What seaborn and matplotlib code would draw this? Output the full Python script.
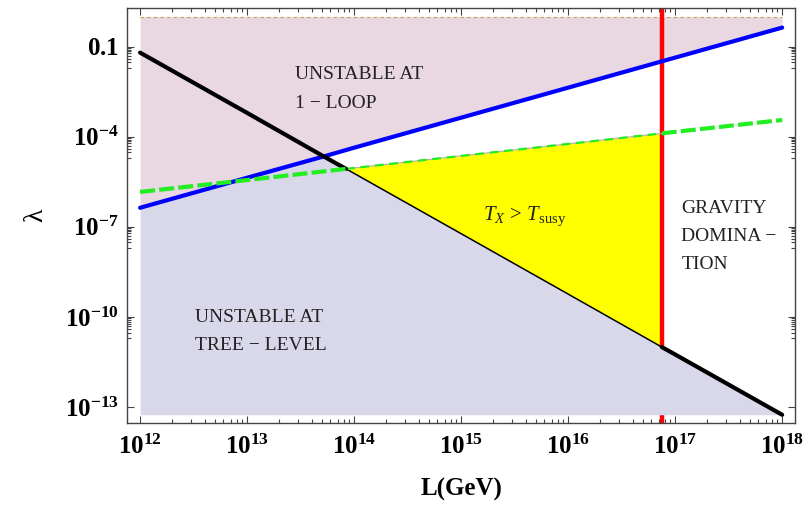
import numpy as np
import pandas as pd
import matplotlib
matplotlib.use("Agg")
import matplotlib.pyplot as plt
import seaborn as sns
from matplotlib.ticker import FixedLocator, NullFormatter, FixedFormatter

# ---------------- data ----------------
L_decades = [1e12, 1e13, 1e14, 1e15, 1e16, 1e17, 1e18]
tree_level = [6.3e-2, 6.2e-4, 6.0e-6, 5.9e-8, 5.75e-10, 5.6e-12, 5.5e-14]
one_loop = [4.3e-7, 4.3e-6, 4.3e-5, 4.3e-4, 4.3e-3, 4.3e-2, 0.43]
tx_tsusy = [1.45e-6, 3.6e-6, 9.1e-6, 2.3e-5, 5.75e-5, 1.45e-4, 3.6e-4]

L_gravity = 7.5e16
lam_top = 1.0
lam_bottom = 5.5e-14

# crossing points
L_cross_tree_loop, lam_cross_tree_loop = 5.2e13, 2.2e-5
L_cross_tree_tx, lam_cross_tree_tx = 8.4e13, 8.5e-6
tree_at_gravity = 9.9e-12
tx_at_gravity = 1.29e-4

x_ticks = [1e12, 1e13, 1e14, 1e15, 1e16, 1e17, 1e18]
x_labels = [r"$\mathbf{10^{12}}$", r"$\mathbf{10^{13}}$", r"$\mathbf{10^{14}}$",
            r"$\mathbf{10^{15}}$", r"$\mathbf{10^{16}}$", r"$\mathbf{10^{17}}$",
            r"$\mathbf{10^{18}}$"]
y_ticks = [1e-1, 1e-4, 1e-7, 1e-10, 1e-13]
y_labels = [r"$\mathbf{0.1}$", r"$\mathbf{10^{-4}}$", r"$\mathbf{10^{-7}}$",
            r"$\mathbf{10^{-10}}$", r"$\mathbf{10^{-13}}$"]

# ---------------- build point tables ----------------
tree = pd.DataFrame({"L": L_decades + [L_cross_tree_loop, L_cross_tree_tx, L_gravity],
                     "lam": tree_level + [lam_cross_tree_loop, lam_cross_tree_tx, tree_at_gravity]}
                    ).sort_values("L").reset_index(drop=True)
loop = pd.DataFrame({"L": L_decades + [L_cross_tree_loop],
                     "lam": one_loop + [lam_cross_tree_loop]}).sort_values("L").reset_index(drop=True)
tx = pd.DataFrame({"L": L_decades + [L_cross_tree_tx, L_gravity],
                   "lam": tx_tsusy + [lam_cross_tree_tx, tx_at_gravity]}).sort_values("L").reset_index(drop=True)

# lavender region: below min(one-loop, tree)
lav = pd.concat([loop[loop.L <= L_cross_tree_loop], tree[tree.L > L_cross_tree_loop]])
# yellow region
yl_tree = tree[(tree.L >= L_cross_tree_tx) & (tree.L <= L_gravity)]
yl_tx = tx[(tx.L >= L_cross_tree_tx) & (tx.L <= L_gravity)]

# ---------------- figure ----------------
sns.set_theme(style="ticks")
plt.rcParams["font.family"] = ["Liberation Serif", "DejaVu Serif"]
plt.rcParams["mathtext.fontset"] = "custom"
plt.rcParams["mathtext.rm"] = "Liberation Serif"
plt.rcParams["mathtext.it"] = "Liberation Serif:italic"
plt.rcParams["mathtext.bf"] = "Liberation Serif:bold"

fig = plt.figure(figsize=(8.1, 5.05), dpi=100)
ax = fig.add_axes([0.157, 0.162, 0.825, 0.823])
ax.set_xscale("log")
ax.set_yscale("log")

pink = "#E9D7E2"
lavender = "#D9D8EA"

ax.fill_between(loop.L, loop.lam, lam_top, color=pink, lw=0, zorder=1)
ax.plot([L_decades[0], L_decades[-1]], [lam_top, lam_top], color="#C8A050",
        lw=0.8, linestyle=(0, (3, 3)), zorder=1.5)
ax.fill_between(yl_tree.L.values, yl_tree.lam.values, yl_tx.lam.values,
                color="#FFFF00", lw=0, zorder=1.6)
ax.axvline(L_gravity, color="#FF0000", lw=3.2, zorder=2)
ax.fill_between(lav.L, lam_bottom, lav.lam, color=lavender, lw=0, zorder=3)

# thin edges of the yellow region
sns.lineplot(x=yl_tree.L, y=yl_tree.lam, color="black", lw=1.1, ax=ax, zorder=4,
             estimator=None)
sns.lineplot(x=yl_tx.L, y=yl_tx.lam, color="#C8A0A8", lw=0.8, ax=ax, zorder=4,
             estimator=None)
sns.lineplot(x=yl_tx.L, y=yl_tx.lam, color="#22EE22", lw=1.6, ax=ax, zorder=4.5,
             estimator=None, linestyle=(0, (4, 2.5)))

# thick curves
sns.lineplot(x=loop.L, y=loop.lam, color="#0000FF", lw=3.0, ax=ax, zorder=5,
             estimator=None)
for part in (tree[tree.L <= L_cross_tree_tx], tree[tree.L >= L_gravity]):
    sns.lineplot(x=part.L, y=part.lam, color="black", lw=3.0, ax=ax, zorder=5,
                 estimator=None)
for part in (tx[tx.L <= L_cross_tree_tx], tx[tx.L >= L_gravity]):
    sns.lineplot(x=part.L, y=part.lam, color="#22EE22", lw=3.0, ax=ax, zorder=6,
                 estimator=None, linestyle=(0, (3.6, 1.0)))

ax.set_xlim(10**11.879, 10**18.124)
ax.set_ylim(10**-13.54, 10**0.3)

# ticks
ax.xaxis.set_major_locator(FixedLocator(x_ticks))
ax.xaxis.set_major_formatter(FixedFormatter(x_labels))
x_minor = [k * d for d in L_decades[:-1] for k in range(2, 10)]
ax.xaxis.set_minor_locator(FixedLocator(x_minor))
ax.xaxis.set_minor_formatter(NullFormatter())
ax.yaxis.set_major_locator(FixedLocator(y_ticks))
ax.yaxis.set_major_formatter(FixedFormatter(y_labels))
y_minor = [k * t / 10 for t in y_ticks[:-1] for k in range(2, 10)]
ax.yaxis.set_minor_locator(FixedLocator(y_minor))
ax.yaxis.set_minor_formatter(NullFormatter())

spine_c = "#444444"
for s in ax.spines.values():
    s.set_visible(True)
    s.set_color(spine_c)
    s.set_linewidth(1.0)
ax.tick_params(which="both", direction="in", top=True, right=True, color=spine_c,
               width=0.8, labelcolor="black")
ax.tick_params(which="major", length=5, labelsize=18)
ax.tick_params(axis="x", which="major", pad=8)
ax.tick_params(axis="y", which="major", pad=6)
ax.tick_params(which="minor", length=3)

ax.set_xlabel("L(GeV)", fontsize=18, fontweight="bold", labelpad=14, color="black")
ax.set_ylabel("λ", fontsize=20, labelpad=12, color="black")

# annotations
tk = dict(fontsize=14, color="#222222", ha="left", va="baseline", zorder=7)
ax.text(2.8e13, 8.2e-3, "UNSTABLE AT", **tk)
ax.text(2.8e13, 8.9e-4, "1 − LOOP", **tk)
ax.text(3.27e12, 6.8e-11, "UNSTABLE AT", **tk)
ax.text(3.27e12, 7.8e-12, "TREE − LEVEL", **tk)
ax.text(1.14e17, 2.8e-7, "GRAVITY", **tk)
ax.text(1.14e17, 3.4e-8, "DOMINA −", **tk)
ax.text(1.14e17, 3.9e-9, "TION", **tk)
ax.text(1.6e15, 1.66e-7, r"$T_X\,>\,T_{\rm susy}$", fontsize=15, color="#222222",
        ha="left", va="baseline", zorder=7)

fig.savefig("out.png", dpi=100)
